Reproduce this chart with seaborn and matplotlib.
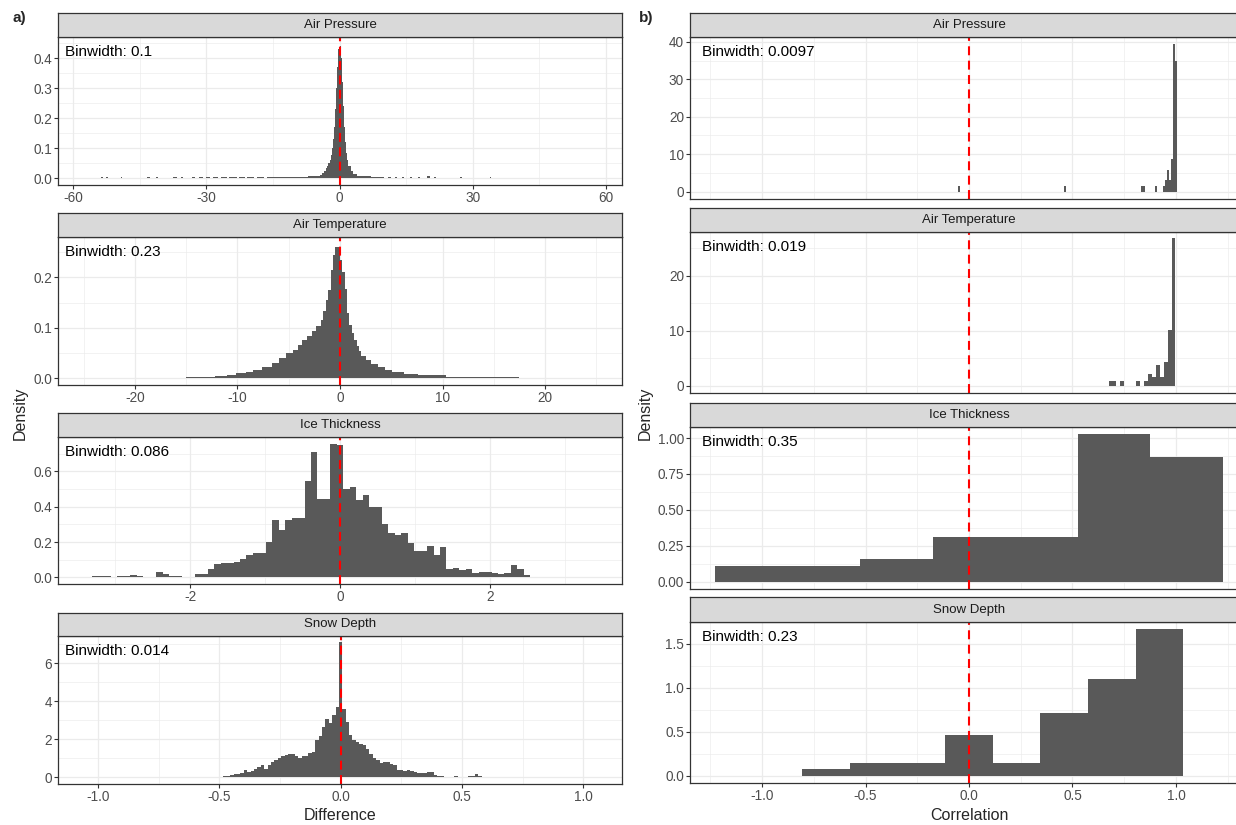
import numpy as np
import matplotlib
matplotlib.use('Agg')
import matplotlib.pyplot as plt
from matplotlib.ticker import FixedLocator, FixedFormatter, MultipleLocator
import seaborn as sns

# ---------------- a) Differences ----------------
# Air Pressure: bin edges + densities (fine bins at the peak, wider ones in the sparse tails)
ap_diff_edges = [-53.7, -53.3, -52.6, -52.2, -49.3, -48.9, -43.4, -42.6, -41.3, -40.9,
                 -37.4, -36.6, -35.8, -35.2, -33.3, -32.5, -31.6, -30.8, -30, -29.2,
                 -28.6, -27.4, -26.6, -25.4, -24.8, -23.2, -22.6, -21.4, -20.8, -19.2,
                 -18.6, -17, -16.4, -10, -7,
                 -5, -4.5, -4, -3.5, -3, -2.75, -2.5, -2.25, -2, -1.75, -1.5, -1.25, -1,
                 -0.75, -0.5, -0.25, 0, 0.25, 0.5, 0.75, 1, 1.25, 1.5, 1.75, 2, 2.5, 3, 4,
                 5, 7, 10, 11, 11.6, 12.4, 13, 14, 14.6, 15.8, 16.4, 17.6, 18.2, 19.6, 20.4,
                 21.2, 21.8, 27.2, 27.6, 33.8, 34.2]
ap_diff_dens = [0.004, 0, 0.004, 0, 0.004, 0, 0.004, 0, 0.004, 0, 0.004, 0, 0.004, 0,
                0.004, 0, 0.004, 0, 0.004, 0, 0.004, 0, 0.004, 0, 0.004, 0, 0.004, 0,
                0.004, 0, 0.004, 0, 0.004, 0.005,
                0.007, 0.009, 0.012, 0.017, 0.024, 0.033, 0.04, 0.05, 0.062, 0.078, 0.1,
                0.13, 0.17, 0.23, 0.3, 0.37, 0.43, 0.44, 0.4, 0.32, 0.24, 0.17, 0.12,
                0.085, 0.06, 0.04, 0.025, 0.014, 0.008,
                0.006, 0.004, 0, 0.004, 0, 0.004, 0, 0.004, 0, 0.004, 0, 0.004, 0, 0.008,
                0, 0.004, 0, 0.004, 0, 0.004]

# Air Temperature
at_diff_edges = [-15, -12.19, -11.04, -10.12, -9.2, -8.51, -7.59, -6.67, -5.98, -5.29,
                 -4.6, -4.14, -3.68, -3.22, -2.76, -2.3, -1.84, -1.61, -1.38, -1.15, -0.92,
                 -0.69, -0.46, 0, 0.23, 0.46, 0.69, 0.92, 1.15, 1.38, 1.61, 1.84, 2.07,
                 2.53, 2.99, 3.68, 4.37, 5.06, 6.21, 7.59, 10.35, 17.48]
at_diff_dens = [0.0025, 0.004, 0.006, 0.01, 0.013, 0.017, 0.023, 0.031, 0.04, 0.05, 0.057,
                0.066, 0.075, 0.083, 0.093, 0.104, 0.115, 0.133, 0.155, 0.175, 0.215,
                0.245, 0.26, 0.235, 0.21, 0.176, 0.13, 0.105, 0.09, 0.076, 0.064, 0.054,
                0.045, 0.036, 0.028, 0.022, 0.017, 0.012, 0.009, 0.006, 0.0025]

# Ice Thickness (binwidth 0.086, first bin centre -3.268)
it_diff_first = -3.268
it_diff_dens = [0.009, 0.009, 0.009, 0, 0.009, 0.009, 0.015, 0.009, 0, 0, 0.03, 0.017,
                0.009, 0.009, 0, 0, 0.018, 0.018, 0.046, 0.078, 0.083, 0.079, 0.087, 0.105,
                0.124, 0.139, 0.139, 0.2, 0.323, 0.266, 0.323, 0.336, 0.336, 0.545, 0.709,
                0.443, 0.443, 0.755, 0.752, 0.499, 0.513, 0.438, 0.465, 0.4, 0.4, 0.303,
                0.253, 0.238, 0.253, 0.194, 0.151, 0.151, 0.175, 0.124, 0.17, 0.046, 0.054,
                0.041, 0.046, 0.022, 0.03, 0.03, 0.022, 0.018, 0.026, 0.072, 0.046, 0.013]

# Snow Depth (binwidth 0.014, first bin centre -0.476)
sd_diff_first = -0.476
sd_diff_dens = [0.08, 0.08, 0.1, 0.16, 0.16, 0.23, 0.38, 0.3, 0.33, 0.42, 0.56, 0.64, 0.42,
                0.64, 0.82, 0.89, 1.03, 1.13, 1.17, 1.2, 1.25, 1.13, 1.03, 1.13, 1.13, 1.3,
                1.34, 1.95, 2.17, 2.64, 3.08, 2.87, 3.25, 3.7, 7.08, 3.6, 2.9, 2.24, 1.95,
                1.86, 1.77, 1.69, 1.51, 1.2, 0.99, 0.9, 0.77, 0.82, 0.78, 0.68, 0.64, 0.38,
                0.38, 0.35, 0.38, 0.35, 0.3, 0.24, 0.24, 0.24, 0.28, 0.26, 0.12, 0.09, 0.09,
                0, 0, 0, 0.09, 0, 0, 0, 0.09, 0.09, 0.16, 0.09]

# ---------------- b) Correlations ----------------
ap_cor_x = [-0.0485, 0.4656, 0.8342, 0.8439, 0.9021, 0.9409, 0.9506, 0.9603, 0.97,
            0.9797, 0.9894, 0.9991]
ap_cor_dens = [1.4, 1.4, 1.4, 1.4, 1.4, 1.4, 3.0, 5.8, 3.0, 8.7, 39.3, 35.0]

at_cor_x = [0.684, 0.703, 0.741, 0.817, 0.855, 0.874, 0.893, 0.912, 0.931, 0.95, 0.969, 0.988]
at_cor_dens = [0.84, 0.84, 0.84, 0.84, 0.84, 2.15, 1.5, 3.76, 1.5, 4.36, 10.1, 26.8]

it_cor_x = [-1.05, -0.7, -0.35, 0, 0.35, 0.7, 1.05]
it_cor_dens = [0.106, 0.106, 0.156, 0.313, 0.313, 1.025, 0.869]

sd_cor_x = [-0.69, -0.46, -0.23, 0, 0.23, 0.46, 0.69, 0.92]
sd_cor_dens = [0.074, 0.14, 0.14, 0.465, 0.14, 0.714, 1.094, 1.663]

titles = ['Air Pressure', 'Air Temperature', 'Ice Thickness', 'Snow Depth']
diff_binlabels = ['0.1', '0.23', '0.086', '0.014']
cor_binlabels = ['0.0097', '0.019', '0.35', '0.23']

diff_xticks = [[-60, -30, 0, 30, 60], [-20, -10, 0, 10, 20], [-2, 0, 2],
               [-1.0, -0.5, 0.0, 0.5, 1.0]]
diff_xticklabels = [['-60', '-30', '0', '30', '60'], ['-20', '-10', '0', '10', '20'],
                    ['-2', '0', '2'], ['-1.0', '-0.5', '0.0', '0.5', '1.0']]
diff_yticks = [[0, 0.1, 0.2, 0.3, 0.4], [0, 0.1, 0.2], [0, 0.2, 0.4, 0.6], [0, 2, 4, 6]]
diff_yticklabels = [['0.0', '0.1', '0.2', '0.3', '0.4'], ['0.0', '0.1', '0.2'],
                    ['0.0', '0.2', '0.4', '0.6'], ['0', '2', '4', '6']]
cor_xticks = [-1.0, -0.5, 0.0, 0.5, 1.0]
cor_xticklabels = ['-1.0', '-0.5', '0.0', '0.5', '1.0']
cor_yticks = [[0, 10, 20, 30, 40], [0, 10, 20], [0, 0.25, 0.5, 0.75, 1.0], [0, 0.5, 1.0, 1.5]]
cor_yticklabels = [['0', '10', '20', '30', '40'], ['0', '10', '20'],
                   ['0.00', '0.25', '0.50', '0.75', '1.00'], ['0.0', '0.5', '1.0', '1.5']]

# ---------------- layout (pixels) ----------------
W, H = 1236, 825
diff_xlims = [(-63.4, 63.6), (-27.5, 27.5), (-3.76, 3.76), (-1.165, 1.16)]
diff_ylims = [(-0.0224, 0.470), (-0.0133, 0.280), (-0.038, 0.795), (-0.35, 7.42)]
cor_xlim = (-1.348, 1.348)
cor_ylims = [(-1.97, 41.3), (-1.33, 27.9), (-0.051, 1.077), (-0.083, 1.746)]

left_x = (58, 622)
left_rows = [(13, 37, 185), (213, 237, 385), (413, 437, 584), (613, 636, 784)]
right_x = (690, 1248)
right_rows = [(13, 37, 199), (208, 232, 393), (403, 427, 589), (597, 622, 783)]

sns.set_style('white')
plt.rcParams['font.family'] = ['Liberation Sans', 'DejaVu Sans']
plt.rcParams['axes.unicode_minus'] = False

fig = plt.figure(figsize=(W / 100, H / 100), dpi=100)


def box(x0, y0, x1, y1):
    return [x0 / W, 1 - y1 / H, (x1 - x0) / W, (y1 - y0) / H]


def facet(xs, row, title, binlabel, text_dx):
    x0, x1 = xs
    s_top, p_top, p_bot = row
    ax = fig.add_axes(box(x0, p_top, x1, p_bot))
    sax = fig.add_axes(box(x0, s_top, x1, p_top))
    sax.set_facecolor('#D9D9D9')
    sax.set_xticks([])
    sax.set_yticks([])
    for s in sax.spines.values():
        s.set_color('#333333')
        s.set_linewidth(0.9)
    sax.text(0.5, 0.5, title, transform=sax.transAxes, ha='center', va='center',
             fontsize=9.5, color='#1A1A1A')
    ax.annotate('Binwidth: ' + binlabel, xy=(0, 1), xycoords='axes fraction',
                xytext=(text_dx * 0.72, -15 * 0.72), textcoords='offset points',
                ha='left', va='center', fontsize=11, color='black')
    return ax


def hist(ax, x, w, **kw):
    sns.histplot(x=list(x), weights=list(w), ax=ax, stat='count', color='#595959', alpha=1,
                 edgecolor='none', linewidth=0, **kw)


def style(ax, xlim, ylim, xt, xtl, yt, ytl, show_x):
    ax.set_xlim(*xlim)
    ax.set_ylim(*ylim)
    ax.xaxis.set_major_locator(FixedLocator(xt))
    ax.xaxis.set_major_formatter(FixedFormatter(xtl))
    ax.yaxis.set_major_locator(FixedLocator(yt))
    ax.yaxis.set_major_formatter(FixedFormatter(ytl))
    ax.xaxis.set_minor_locator(MultipleLocator((xt[1] - xt[0]) / 2))
    ax.yaxis.set_minor_locator(MultipleLocator((yt[1] - yt[0]) / 2))
    ax.set_axisbelow(True)
    ax.grid(which='major', color='#EBEBEB', lw=0.9)
    ax.grid(which='minor', color='#EBEBEB', lw=0.45)
    ax.axvline(0, color='#FF0000', lw=1.5, ls=(0, (4.3, 2.6)))
    for s in ax.spines.values():
        s.set_color('#333333')
        s.set_linewidth(0.9)
    ax.tick_params(which='major', length=2.75, width=0.8, color='#333333',
                   labelsize=9.8, labelcolor='#4D4D4D', pad=1.5, left=True, bottom=True)
    ax.tick_params(which='minor', length=0)
    if not show_x:
        ax.tick_params(axis='x', labelbottom=False, bottom=False)
    ax.set_xlabel('')
    ax.set_ylabel('')


# ---- left column: differences ----
diff_data = [
    (ap_diff_edges, ap_diff_dens, None),
    (at_diff_edges, at_diff_dens, None),
    (None, it_diff_dens, (it_diff_first, 0.086)),
    (None, sd_diff_dens, (sd_diff_first, 0.014)),
]
for i, (edges, dens, uni) in enumerate(diff_data):
    ax = facet(left_x, left_rows[i], titles[i], diff_binlabels[i], 7)
    if edges is not None:
        e = np.array(edges, dtype=float)
        centers = (e[:-1] + e[1:]) / 2
        hist(ax, centers, dens, bins=list(e))
    else:
        first, bw = uni
        centers = first + bw * np.arange(len(dens))
        hist(ax, centers, dens, binwidth=bw,
             binrange=(centers[0] - bw / 2, centers[-1] + bw / 2))
    style(ax, diff_xlims[i], diff_ylims[i], diff_xticks[i], diff_xticklabels[i],
          diff_yticks[i], diff_yticklabels[i], True)

# ---- right column: correlations ----
cor_data = [(ap_cor_x, ap_cor_dens, 0.0097), (at_cor_x, at_cor_dens, 0.019),
            (it_cor_x, it_cor_dens, 0.35), (sd_cor_x, sd_cor_dens, 0.23)]
for i, (cx, dens, bw) in enumerate(cor_data):
    ax = facet(right_x, right_rows[i], titles[i], cor_binlabels[i], 12)
    hist(ax, cx, dens, binwidth=bw, binrange=(min(cx) - bw / 2, max(cx) + bw / 2))
    style(ax, cor_xlim, cor_ylims[i], cor_xticks, cor_xticklabels,
          cor_yticks[i], cor_yticklabels[i], i == 3)

# ---- shared labels ----
fig.text(20 / W, 1 - 413 / H, 'Density', rotation=90, ha='center', va='center', fontsize=11.5)
fig.text(645 / W, 1 - 413 / H, 'Density', rotation=90, ha='center', va='center', fontsize=11.5)
fig.text(340 / W, 1 - 816 / H, 'Difference', ha='center', va='center', fontsize=11.5)
fig.text(969 / W, 1 - 816 / H, 'Correlation', ha='center', va='center', fontsize=11.5)
fig.text(19 / W, 1 - 18 / H, 'a)', ha='center', va='center', fontsize=11, fontweight='bold')
fig.text(646 / W, 1 - 18 / H, 'b)', ha='center', va='center', fontsize=11, fontweight='bold')

fig.savefig('out.png', dpi=100)
plt.close(fig)
